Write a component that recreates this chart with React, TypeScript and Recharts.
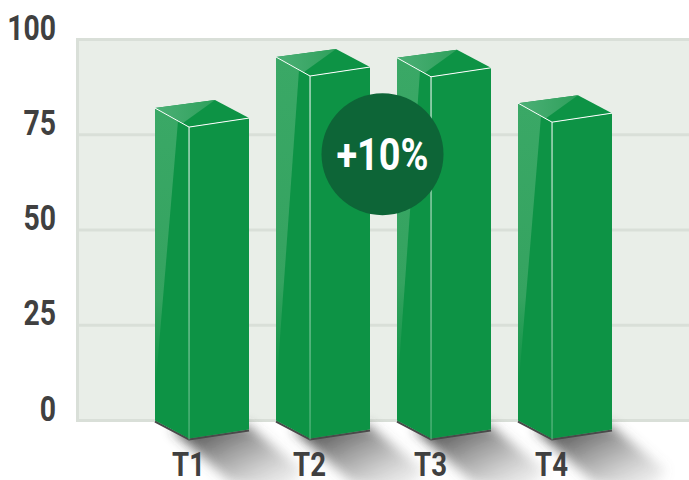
import { BarChart, Bar, XAxis, YAxis, CartesianGrid, ReferenceDot } from "recharts";

const categories = ["T1", "T2", "T3", "T4"];
const values = [82, 95.4, 95.2, 83.3];
const yTicks = [0, 25, 50, 75, 100];

const data = categories.map((name, i) => ({ name, value: values[i] }));

const FONT = "Roboto, sans-serif";
const GREEN = "#0D9345";
const INK = "#404040";

// no condensed face is installed, so the text is squeezed sideways
function YTick({ x, y, payload }: any) {
  return (
    <text transform={`translate(${x + 5},${y}) scale(0.81,1)`} textAnchor="end" fill={INK} fontSize={35} fontWeight={700} fontFamily={FONT}>
      {payload.value}
    </text>
  );
}

function XTick({ x, y, payload }: any) {
  return (
    <text transform={`translate(${x - 13},${y + 47}) scale(0.81,1)`} textAnchor="middle" fill={INK} fontSize={34} fontWeight={700} fontFamily={FONT}>
      {payload.value}
    </text>
  );
}

// 3d box: x/y is the back-left top corner of the left face
function Box3D({ x, y, width, height }: any) {
  const base = y + height;
  const fx = x + width * 0.362; // front edge
  const rx = x + width;
  const ax = x + width * 0.638; // top apex
  const pts = (arr: number[][]) => arr.map((p) => p.join(",")).join(" ");
  return (
    <g>
      <polygon
        points={pts([[x + 16, base + 8], [rx - 2, base + 4], [rx + 54, base + 50], [rx + 38, base + 72], [x + 76, base + 62]])}
        fill="url(#shadowFade)"
        filter="url(#shadowBlur)"
      />
      <polyline points={pts([[x, base + 1], [fx, base + 19], [rx, base + 10]])} fill="none" stroke="#4a4a4a" strokeWidth={2} />
      <polygon points={pts([[x, y], [fx, y + 19], [fx, base + 18], [x, base]])} fill={GREEN} />
      <polygon points={pts([[x, y], [x + 23, y + 13], [x + 1, base - 40], [x, base - 40]])} fill="url(#sideGloss)" />
      <polygon points={pts([[fx, y + 19], [rx, y + 10], [rx, base + 9], [fx, base + 18]])} fill={GREEN} />
      <polygon points={pts([[x, y], [ax, y - 8], [rx, y + 10], [fx, y + 19]])} fill={GREEN} />
      <polygon points={pts([[x, y], [ax, y - 8], [x + 28, y + 15]])} fill="url(#topGloss)" />
      <rect x={fx - 0.5} y={y + 19} width={1} height={height} fill="url(#edgeFade)" />
      <polyline points={pts([[x, y], [fx, y + 19], [rx, y + 10]])} fill="none" stroke="#fff" strokeWidth={1} />
    </g>
  );
}

// badge sits halfway between its bar and the next one
function Badge({ cx, cy }: any) {
  return (
    <g>
      <circle cx={cx + 60} cy={cy} r={61} fill="#0D6537" />
      <text transform={`translate(${cx + 60},${cy + 15.5}) scale(0.86,1)`} textAnchor="middle" fill="#fff" fontSize={44} fontWeight={700} fontFamily={FONT}>
        +10%
      </text>
    </g>
  );
}

export default function App() {
  return (
    <div style={{ position: "absolute", left: 0, top: 0 }}>
      <BarChart
        width={689}
        height={480}
        data={data}
        barSize={94}
        margin={{ top: 39.5, right: 0, bottom: 0, left: 0 }}
      >
        <defs>
          <filter id="shadowBlur" x="-30%" y="-30%" width="160%" height="160%">
            <feGaussianBlur stdDeviation="6" />
          </filter>
          <linearGradient id="shadowFade" x1="0" y1="0" x2="1" y2="1">
            <stop offset="0.15" stopColor="#3a3a3a" stopOpacity={0.85} />
            <stop offset="0.9" stopColor="#888" stopOpacity={0.1} />
          </linearGradient>
          <linearGradient id="sideGloss" x1="0" y1="0" x2="0" y2="1">
            <stop offset="0" stopColor="#3AA866" />
            <stop offset="0.7" stopColor="#35A360" />
            <stop offset="1" stopColor="#35A360" stopOpacity={0} />
          </linearGradient>
          <linearGradient id="topGloss" x1="0" y1="0" x2="1" y2="0">
            <stop offset="0" stopColor="#4CB076" />
            <stop offset="1" stopColor="#2FA05C" />
          </linearGradient>
          <linearGradient id="edgeFade" x1="0" y1="0" x2="0" y2="1">
            <stop offset="0" stopColor="#fff" />
            <stop offset="1" stopColor="#5FBB85" />
          </linearGradient>
        </defs>
        <CartesianGrid
          fill="#E9EEE8"
          stroke="#D9DFD8"
          strokeWidth={3}
          verticalPoints={[77.5]}
        />
        <YAxis
          type="number"
          domain={[0, 100]}
          ticks={yTicks}
          width={76}
          axisLine={false}
          tickLine={false}
          tickMargin={19}
          interval={0}
          tick={<YTick />}
        />
        <Bar dataKey="value" shape={<Box3D />} isAnimationActive={false} />
        <XAxis
          dataKey="name"
          height={59.5}
          padding={{ left: 65, right: 64 }}
          axisLine={false}
          tickLine={false}
          interval={0}
          tick={<XTick />}
        />
        <ReferenceDot x="T2" y={69.9} shape={<Badge />} ifOverflow="visible" />
      </BarChart>
    </div>
  );
}
